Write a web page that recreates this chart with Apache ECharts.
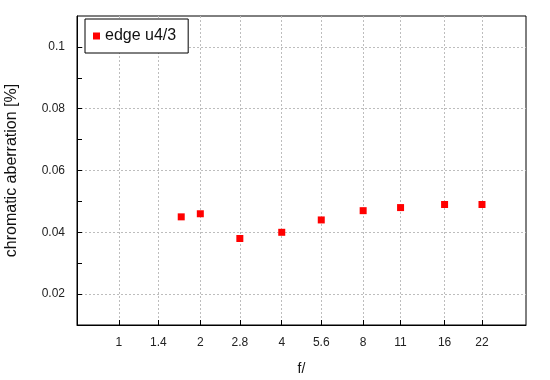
<!DOCTYPE html>
<html>
<head>
<meta charset="utf-8">
<script src="https://cdn.jsdelivr.net/npm/echarts@6/dist/echarts.min.js"></script>
<style>
html,body{margin:0;padding:0;background:#fff;}
#chart{width:550px;height:380px;}
</style>
</head>
<body>
<div id="chart"></div>
<script>
// data
const seriesName = 'edge u4/3';
const fNumbers = [1.7, 2, 2.8, 4, 5.6, 8, 11, 16, 22];
const caValues = [0.045, 0.046, 0.038, 0.040, 0.044, 0.047, 0.048, 0.049, 0.049];
const xTickValues = [1, 1.4, 2, 2.8, 4, 5.6, 8, 11, 16, 22];
const xTickLabels = ['1', '1.4', '2', '2.8', '4', '5.6', '8', '11', '16', '22'];
const yLabelValues = [0.02, 0.04, 0.06, 0.08, 0.1];
const yLabelTexts = ['0.02', '0.04', '0.06', '0.08', '0.1'];
const yTickValues = [0.02, 0.03, 0.04, 0.05, 0.06, 0.07, 0.08, 0.09, 0.1];

const FONT = '"Liberation Sans", Arial, sans-serif';
const xLog = xTickValues.map(v => Math.log2(v));

function nearestLabel(vals, texts, v) {
  let best = 0, bd = Infinity;
  vals.forEach((t, i) => { const d = Math.abs(t - v); if (d < bd) { bd = d; best = i; } });
  return texts[best];
}

const chart = echarts.init(document.getElementById('chart'), null, {renderer: 'canvas'});
const gridLine = {show: true, lineStyle: {color: '#bdbdbd', width: 1, type: [2, 2]}};

chart.setOption({
  animation: false,
  backgroundColor: '#fff',
  grid: {left: 77, right: 24, top: 16, bottom: 55, outerBoundsMode: 'none', containLabel: false,
    show: true, borderColor: '#000', borderWidth: 1, backgroundColor: 'transparent'},
  legend: {
    data: [seriesName],
    left: 85, top: 19,
    icon: 'rect', itemWidth: 7, itemHeight: 7,
    padding: [9, 12, 9, 8],
    backgroundColor: '#fff', borderColor: '#000', borderWidth: 1,
    itemStyle: {opacity: 1},
    textStyle: {fontFamily: FONT, fontSize: 16, color: '#111'}
  },
  xAxis: {
    type: 'value',
    min: Math.log2(0.7), max: 5,
    name: 'f/', nameLocation: 'middle', nameGap: 37,
    nameTextStyle: {fontFamily: FONT, fontSize: 14, color: '#111'},
    axisLine: {show: true, onZero: false, lineStyle: {color: '#000', width: 1}},
    axisTick: {show: true, inside: true, length: 5, customValues: xLog, lineStyle: {color: '#000'}},
    axisLabel: {customValues: xLog, margin: 12, fontFamily: FONT, fontSize: 12, color: '#222',
      formatter: v => nearestLabel(xLog, xTickLabels, v)},
    splitLine: gridLine
  },
  yAxis: [{
    type: 'value',
    min: 0.01, max: 0.11,
    name: 'chromatic aberration [%]', nameLocation: 'middle', nameGap: 57,
    nameTextStyle: {fontFamily: FONT, fontSize: 16, color: '#111'},
    axisLine: {show: true, onZero: false, lineStyle: {color: '#000', width: 1}},
    axisTick: {show: true, inside: true, length: 5, customValues: yTickValues, lineStyle: {color: '#000'}},
    axisLabel: {customValues: yLabelValues, margin: 12, fontFamily: FONT, fontSize: 12, color: '#222',
      formatter: v => nearestLabel(yLabelValues, yLabelTexts, v)},
    splitLine: {show: false}
  }, {
    type: 'value',
    position: 'left',
    min: 0.01, max: 0.11,
    axisLine: {show: false},
    axisTick: {show: false, customValues: yLabelValues},
    axisLabel: {show: false},
    splitLine: gridLine
  }],
  series: [{
    name: seriesName,
    type: 'scatter',
    yAxisIndex: 0,
    symbol: 'rect',
    symbolSize: 7,
    itemStyle: {color: '#ff0000', opacity: 1},
    data: fNumbers.map((f, i) => [Math.log2(f), caValues[i]])
  }]
});
</script>
</body>
</html>
